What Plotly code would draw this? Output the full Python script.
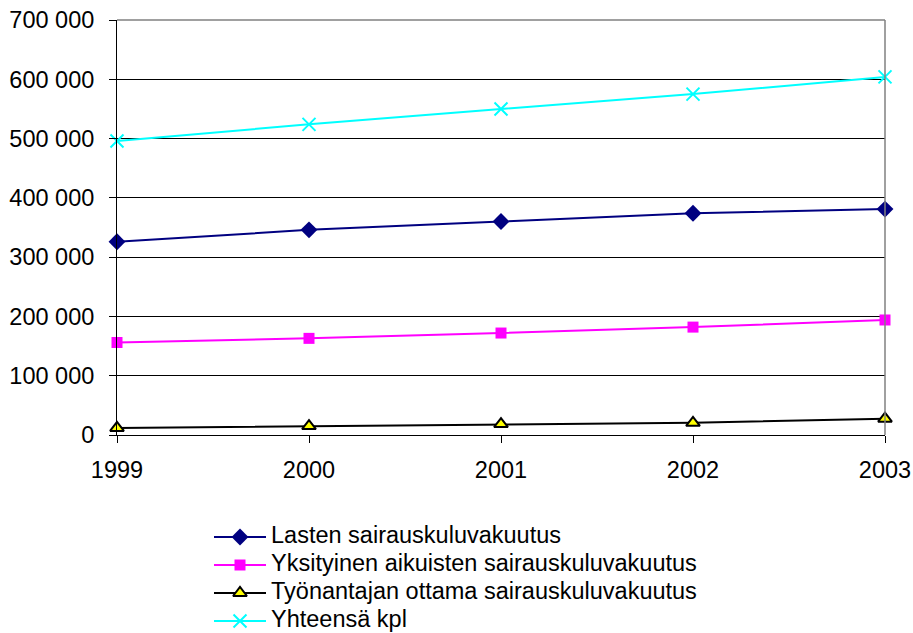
import plotly.graph_objects as go

years = ["1999", "2000", "2001", "2002", "2003"]

lasten = [326000, 346000, 360000, 374000, 381000]
yksityinen = [156000, 163000, 172000, 182000, 194000]
tyonantaja = [12000, 15000, 18500, 20500, 27500]
yhteensa = [496000, 524000, 550000, 575000, 604000]

y_ticks = [0, 100000, 200000, 300000, 400000, 500000, 600000, 700000]

series_names = [
    "Lasten sairauskuluvakuutus",
    "Yksityinen aikuisten sairauskuluvakuutus",
    "Työnantajan ottama sairauskuluvakuutus",
    "Yhteensä kpl",
]
series_values = [lasten, yksityinen, tyonantaja, yhteensa]

styles = [
    (dict(symbol="diamond", size=13, color="#000080"), "#000080"),
    (dict(symbol="square", size=11, color="#FF00FF"), "#FF00FF"),
    (dict(symbol="triangle-up", size=12, color="#FFFF00",
          line=dict(color="#000000", width=2)), "#000000"),
    (dict(symbol="x-thin-open", size=13, color="#00FFFF",
          line=dict(color="#00FFFF", width=2)), "#00FFFF"),
]

W, H = 913, 633
L, R, T = 117, 28, 20
plot_bottom = 435  # pixel row of the x axis
paper_h = H - T
main_bottom = (H - plot_bottom) / paper_h

font = "Liberation Sans, Arial, sans-serif"
FS = 23.5

fig = go.Figure()
for name, vals, (marker, lc) in zip(series_names, series_values, styles):
    fig.add_trace(go.Scatter(
        x=years, y=vals, name=name, mode="lines+markers",
        line=dict(color=lc, width=2), marker=marker, cliponaxis=False,
        showlegend=False, xaxis="x", yaxis="y",
    ))

# legend block drawn on an invisible pixel-scaled overlay axis
leg_x0, leg_x1, leg_text_x = 214, 266, 269
leg_y0, leg_step = 537, 28
annotations = []
for i, (name, (marker, lc)) in enumerate(zip(series_names, styles)):
    yy = leg_y0 + i * leg_step
    fig.add_trace(go.Scatter(
        x=[leg_x0, leg_x1], y=[yy, yy], mode="lines",
        line=dict(color=lc, width=2), hoverinfo="skip",
        showlegend=False, xaxis="x2", yaxis="y2",
    ))
    fig.add_trace(go.Scatter(
        x=[(leg_x0 + leg_x1) / 2], y=[yy], mode="markers",
        marker=marker, hoverinfo="skip", cliponaxis=False,
        showlegend=False, xaxis="x2", yaxis="y2",
    ))
    annotations.append(dict(
        x=leg_text_x, y=yy - 2, xref="x2", yref="y2", text=name,
        showarrow=False, xanchor="left", yanchor="middle",
        font=dict(family=font, size=FS, color="#000000"),
    ))

fig.update_layout(
    width=W, height=H,
    margin=dict(l=L, r=R, t=T, b=0, autoexpand=False),
    paper_bgcolor="white", plot_bgcolor="white",
    separators=", ",
    font=dict(family=font, size=FS, color="#000000"),
    showlegend=False,
    annotations=annotations,
    xaxis=dict(
        type="category", range=[0, 4], automargin=False,
        showgrid=False, zeroline=False,
        showline=True, linecolor="#000000", linewidth=1,
        ticks="outside", ticklen=7, tickcolor="#000000",
        tickfont=dict(size=FS), ticklabelstandoff=7, fixedrange=True,
        anchor="y",
    ),
    yaxis=dict(
        domain=[main_bottom, 1], anchor="x",
        range=[0, 700000], tickvals=y_ticks, tickformat=",d",
        automargin=False,
        showgrid=True, gridcolor="#000000", gridwidth=1,
        zeroline=False,
        showline=True, linecolor="#000000", linewidth=1,
        ticks="outside", ticklen=7, tickcolor="#000000",
        tickfont=dict(size=FS), ticklabelstandoff=10, fixedrange=True,
    ),
    xaxis2=dict(
        domain=[0, 1], range=[L, W - R], anchor="y2", visible=False,
        fixedrange=True,
    ),
    yaxis2=dict(
        domain=[0, main_bottom], range=[H, plot_bottom], anchor="x2",
        visible=False, fixedrange=True,
    ),
)

# gray plot-area frame on the top and right edges
fig.add_shape(type="line", xref="x domain", yref="y domain",
              x0=0, x1=1, y0=1, y1=1, line=dict(color="#808080", width=1.5))
fig.add_shape(type="line", xref="x domain", yref="y domain",
              x0=1, x1=1, y0=0, y1=1, line=dict(color="#808080", width=1.5))

fig.write_html("out.html")
